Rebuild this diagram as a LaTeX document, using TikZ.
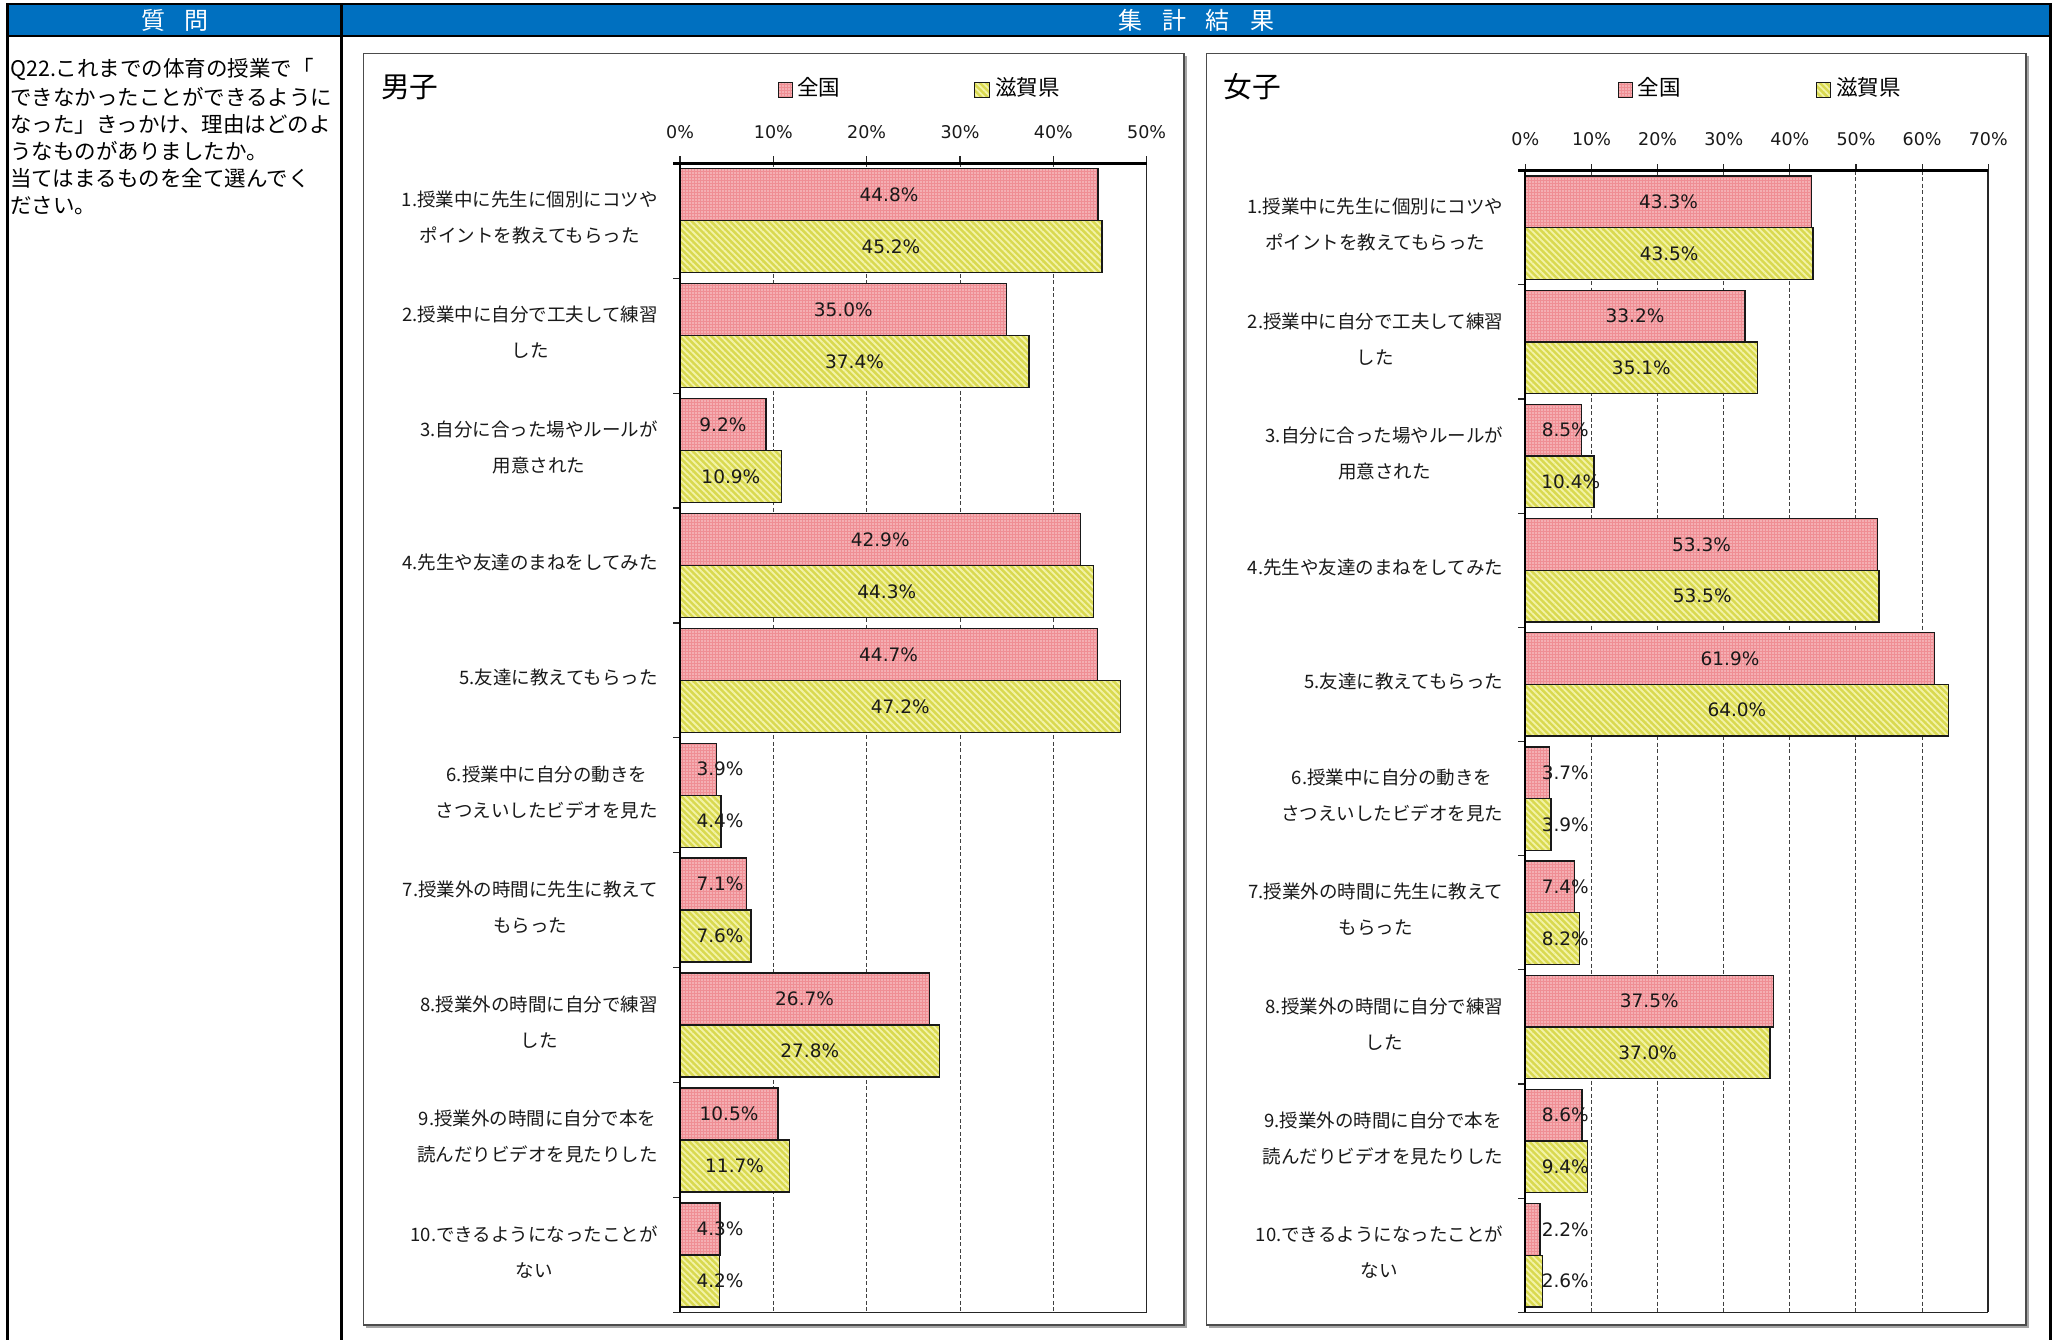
\documentclass[tikz,border=0pt]{standalone}
\usepackage{fontspec}
\usetikzlibrary{patterns.meta}
\newfontfamily\jp{Noto Sans CJK JP}
\newfontfamily\dv{DejaVu Sans}
\definecolor{hdrblue}{HTML}{0070C0}
\definecolor{pinkbase}{HTML}{EF8E94}
\definecolor{pinkdot}{HTML}{FAD2D4}
\definecolor{yelbase}{HTML}{D9D950}
\definecolor{yelline}{HTML}{F3F3A8}
\tikzset{
  pinkbar/.style={preaction={fill=pinkbase},
    preaction={pattern={Dots[radius=0.8pt,distance=3pt]},pattern color=pinkdot},
    draw=black!90, line width=1.4pt},
  yelbar/.style={preaction={fill=yelbase},
    preaction={pattern={Lines[angle=-45,distance=4.5pt,line width=1.8pt]},pattern color=yelline},
    draw=black!90, line width=1.4pt},
  gridln/.style={line width=1pt, black!75, dash pattern=on 4pt off 2.5pt},
  axisln/.style={line width=1.5pt, black!85},
  catlab/.style={font=\jp\fontsize{18.5}{36}\selectfont, align=center, inner sep=0pt, text=black!90},
  axlab/.style={font=\dv\fontsize{17.5}{20}\selectfont, inner sep=0pt, text=black!90},
  datlab/.style={font=\dv\fontsize{18.5}{20}\selectfont, inner sep=0pt, text=black!90},
  legtxt/.style={font=\jp\fontsize{21.5}{24}\selectfont, inner sep=0pt, anchor=west},
  ttl/.style={font=\jp\fontsize{28.7}{30}\selectfont, inner sep=0pt, anchor=west},
  hdr/.style={font=\jp\fontsize{24}{24}\selectfont, text=white, inner sep=0pt},
  qtxt/.style={font=\jp\fontsize{21.5}{24}\selectfont, inner sep=0pt, anchor=west},
  panel/.style={draw=black!70, line width=1.6pt, fill=white},
  shadow/.style={fill=black!35},
}
% #1 xo, #2 px per %, #3 top y, #4 category spacing, #5 max %, #6 data, #7 prefix
\newcommand\mychart[7]{%
  \pgfmathsetmacro\bh{0.4527*#4}%
  \pgfmathsetmacro\yb{#3+10*#4}%
  \pgfmathsetmacro\xr{#1+#5*#2}%
  \pgfmathtruncatemacro\nmax{#5-10}%
  \foreach \p in {10,20,...,\nmax}
    \draw[gridln] ({#1+\p*#2},#3) -- ({#1+\p*#2},\yb);
  \foreach \i/\a/\b/\pa/\pb/\txt in {#6}{%
    \pgfmathsetmacro\cy{#3+(\i-0.5)*#4}%
    \pgfmathsetmacro\xa{#1+\a*#2}%
    \pgfmathsetmacro\xb{#1+\b*#2}%
    \pgfmathsetmacro\lxa{#1+ifthenelse(\pa<0,\a*#2/2,\pa)}%
    \pgfmathsetmacro\lxb{#1+ifthenelse(\pb<0,\b*#2/2,\pb)}%
    \draw[pinkbar] (#1,{\cy-\bh}) rectangle (\xa,\cy);
    \draw[yelbar] (#1,\cy) rectangle (\xb,{\cy+\bh});
    \node[datlab] (#7pa\i) at (\lxa,{\cy-\bh/2}) {\a\%};
    \node[datlab] (#7ya\i) at (\lxb,{\cy+\bh/2}) {\b\%};
    \node[catlab, anchor=east] (#7cat\i) at ({#1-22},{\cy-3}) {\txt};
  }
  \foreach \k in {0,...,10}
    \draw[line width=1.2pt, black!85] ({#1-7},{#3+\k*#4}) -- (#1,{#3+\k*#4});
  \foreach \p in {0,10,...,#5}{%
    \draw[line width=1.2pt, black!85] ({#1+\p*#2},#3) -- ({#1+\p*#2},{#3-7});
    \node[axlab] (#7ax\p) at ({#1+\p*#2},{#3-31.6}) {\p\%};
  }
  \draw[axisln] ({#1-7},\yb) -- (\xr,\yb);
  \draw[axisln] (\xr,#3) -- (\xr,\yb);
  \draw[line width=2.2pt, black] (#1,#3) -- (#1,\yb);
  \draw[line width=2.6pt, black] ({#1-7},#3) -- (\xr,#3);
}
\begin{document}
\begin{tikzpicture}[x=1pt,y=-1pt]
\useasboundingbox (0,0) rectangle (2056,1340);
\fill[white] (0,0) rectangle (2056,1340);
% table frame
\fill[hdrblue] (7.2,4) rectangle (2050.5,36.2);
\draw[line width=2.6pt] (7.2,1342) -- (7.2,4) -- (2050.5,4) -- (2050.5,1342);
\draw[line width=2.6pt] (7.2,36.2) -- (2050.5,36.2);
\draw[line width=3pt] (341.5,4) -- (341.5,1342);
\node[hdr] (hq) at (175,20.5) {質\hspace{20pt}問};
\node[hdr] (hr) at (1196,20.5) {集\hspace{20pt}計\hspace{20pt}結\hspace{20pt}果};
% question text
\node[qtxt] (q1) at (10,69.5) {Q22.これまでの体育の授業で「};
\node[qtxt] (q2) at (10,96.8) {できなかったことができるように};
\node[qtxt] (q3) at (10,124.1) {なった」きっかけ、理由はどのよ};
\node[qtxt] (q4) at (10,151.4) {うなものがありましたか。};
\node[qtxt] (q5) at (10,178.7) {当てはまるものを全て選んでく};
\node[qtxt] (q6) at (10,206) {ださい。};
% panels
\fill[shadow] (366,56) rectangle (1186.5,1327.5);
\draw[panel] (363.5,53.5) rectangle (1184,1325);
\fill[shadow] (1209,56) rectangle (2028.5,1327.5);
\draw[panel] (1206.5,53.5) rectangle (2026,1325);
% titles and legends
\node[ttl] (tb) at (381,87) {男子};
\node[ttl] (tg) at (1223.5,87) {女子};
\draw[pinkbar, line width=1pt] (778,83) rectangle (792,97.5);
\node[legtxt] (lb1) at (797,87) {全国};
\draw[yelbar, line width=1pt] (974.5,83) rectangle (989,97.5);
\node[legtxt] (lb2) at (995,87) {滋賀県};
\draw[pinkbar, line width=1pt] (1618,83) rectangle (1632,97.5);
\node[legtxt] (lg1) at (1637.5,87) {全国};
\draw[yelbar, line width=1pt] (1816,83) rectangle (1830.5,97.5);
\node[legtxt] (lg2) at (1836,87) {滋賀県};
% boys chart
\mychart{680}{9.3333}{163.3}{114.9}{50}{%
1/44.8/45.2/-1/-1/{1.授業中に先生に個別にコツや\\ポイントを教えてもらった},
2/35.0/37.4/-1/-1/{2.授業中に自分で工夫して練習\\した},
3/9.2/10.9/-1/-1/{3.自分に合った場やルールが\\用意された},
4/42.9/44.3/-1/-1/{4.先生や友達のまねをしてみた},
5/44.7/47.2/-1/-1/{5.友達に教えてもらった},
6/3.9/4.4/40/40/{6.授業中に自分の動きを\\さつえいしたビデオを見た},
7/7.1/7.6/40/40/{7.授業外の時間に先生に教えて\\もらった},
8/26.7/27.8/-1/-1/{8.授業外の時間に自分で練習\\した},
9/10.5/11.7/-1/-1/{9.授業外の時間に自分で本を\\読んだりビデオを見たりした},
10/4.3/4.2/40/40/{10.できるようになったことが\\ない}}{b}
% girls chart
\mychart{1525.3}{6.613}{170.7}{114.16}{70}{%
1/43.3/43.5/-1/-1/{1.授業中に先生に個別にコツや\\ポイントを教えてもらった},
2/33.2/35.1/-1/-1/{2.授業中に自分で工夫して練習\\した},
3/8.5/10.4/40/45.5/{3.自分に合った場やルールが\\用意された},
4/53.3/53.5/-1/-1/{4.先生や友達のまねをしてみた},
5/61.9/64.0/-1/-1/{5.友達に教えてもらった},
6/3.7/3.9/40/40/{6.授業中に自分の動きを\\さつえいしたビデオを見た},
7/7.4/8.2/40/40/{7.授業外の時間に先生に教えて\\もらった},
8/37.5/37.0/-1/-1/{8.授業外の時間に自分で練習\\した},
9/8.6/9.4/40/40/{9.授業外の時間に自分で本を\\読んだりビデオを見たりした},
10/2.2/2.6/40/40/{10.できるようになったことが\\ない}}{g}
\end{tikzpicture}
\end{document}
